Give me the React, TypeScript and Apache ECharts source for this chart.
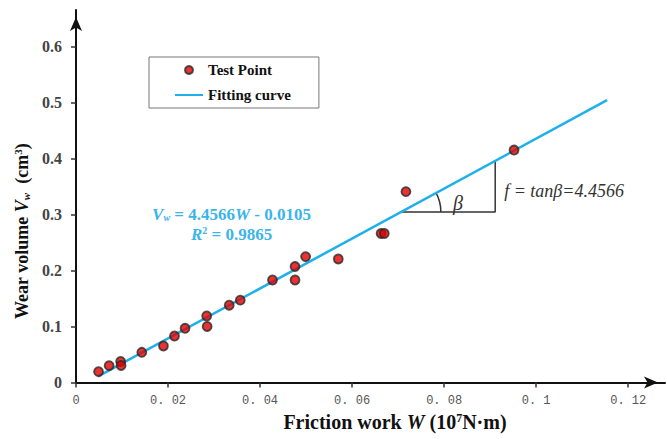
import React, { useEffect, useRef } from 'react';
import * as echarts from 'echarts';

// Test points: friction work W (10^7 N·m) and wear volume Vw (cm^3)
const testPointW = [0.0049, 0.0072, 0.0097, 0.0098, 0.0143, 0.019, 0.0214, 0.0237, 0.0284, 0.0285, 0.0333, 0.0357, 0.0427, 0.0476, 0.0476, 0.0499, 0.057, 0.0663, 0.067, 0.0717, 0.0952];
const testPointV = [0.0193, 0.03, 0.0375, 0.0304, 0.0539, 0.0652, 0.083, 0.0968, 0.1188, 0.1, 0.138, 0.147, 0.183, 0.207, 0.183, 0.2246, 0.2205, 0.266, 0.266, 0.3407, 0.415];

// Fitting curve endpoints (Vw = 4.4566W - 0.0105)
const fitW = [0.0048, 0.1154];
const fitV = [0.0109, 0.504];

// Slope triangle
const triangleW = [0.0706, 0.0911, 0.0911];
const triangleV = [0.3044, 0.3044, 0.3955];

const xTickValues = [0, 0.02, 0.04, 0.06, 0.08, 0.1, 0.12];
const xTickLabels = ['0', '0. 02', '0. 04', '0. 06', '0. 08', '0. 1', '0. 12'];
const yTickValues = [0, 0.1, 0.2, 0.3, 0.4, 0.5, 0.6];
const yTickLabels = ['0', '0.1', '0.2', '0.3', '0.4', '0.5', '0.6'];

const SERIF = "'Liberation Serif', 'Times New Roman', serif";
const FIT_COLOR = '#1DB0EA';
const EQ_COLOR = '#3AB4EB';

function lookup(values: number[], labels: string[], v: number) {
  for (let i = 0; i < values.length; i++) {
    if (Math.abs(values[i] - v) < 1e-6) return labels[i];
  }
  return '';
}

function nameRich(size: number) {
  const small = Math.round(size * 0.6);
  const shift = Math.round(size * 0.45);
  return {
    b: { fontFamily: SERIF, fontWeight: 'bold', fontSize: size, color: '#111' },
    i: { fontFamily: SERIF, fontWeight: 'bold', fontStyle: 'italic', fontSize: size, color: '#111' },
    sub: { fontFamily: SERIF, fontWeight: 'bold', fontStyle: 'italic', fontSize: small, color: '#111', padding: [shift, 0, 0, 0] },
    sup: { fontFamily: SERIF, fontWeight: 'bold', fontSize: small, color: '#111', padding: [0, 0, shift, 0] },
  };
}

export default function App() {
  const ref = useRef<HTMLDivElement>(null);

  useEffect(() => {
    if (!ref.current) return;
    const chart = echarts.init(ref.current, undefined, { renderer: 'svg' });

    chart.setOption({
      animation: false,
      backgroundColor: '#ffffff',
      grid: { left: 76, right: 2, top: 10, bottom: 56.5 },
      legend: {
        data: [
          { name: 'Test Point', icon: 'circle' },
          { name: 'Fitting curve', itemStyle: { opacity: 0, color: 'transparent', borderWidth: 0 } },
        ],
        orient: 'vertical',
        left: 149,
        top: 57,
        padding: [5.5, 28, 5.5, 25],
        itemGap: 10,
        itemWidth: 28,
        itemHeight: 8,
        borderColor: '#777',
        borderWidth: 1,
        selectedMode: false,
        textStyle: { fontFamily: SERIF, fontWeight: 'bold', fontSize: 15, color: '#111' },
      },
      xAxis: {
        type: 'value',
        min: 0,
        max: 0.128,
        interval: 0.02,
        name: '{b|Friction work }{i|W}{b| (10}{sup|7}{b|N·m)}',
        nameLocation: 'middle',
        nameGap: 29,
        nameTextStyle: { rich: nameRich(20), padding: [0, 0, 0, 49] },
        axisLine: {
          show: true,
          onZero: false,
          symbol: ['none', 'arrow'],
          symbolSize: [9, 14],
          symbolOffset: [0, -7],
          lineStyle: { color: '#111', width: 2 },
        },
        axisTick: { show: true, length: 5, lineStyle: { color: '#333', width: 1.5 } },
        axisLabel: {
          margin: 12,
          fontFamily: "'Liberation Mono', monospace",
          fontSize: 12,
          color: '#555',
          showMaxLabel: false,
          formatter: (v: number) => lookup(xTickValues, xTickLabels, v),
        },
        splitLine: { show: false },
      },
      yAxis: {
        type: 'value',
        min: 0,
        max: 0.665,
        interval: 0.1,
        name: '{b|Wear volume }{i|V}{sub|w}{b|  (cm}{sup|3}{b|)}',
        nameLocation: 'middle',
        nameGap: 44,
        nameTextStyle: { rich: nameRich(18), padding: [0, 70, 0, 0] },
        axisLine: {
          show: true,
          onZero: false,
          symbol: ['none', 'arrow'],
          symbolSize: [9, 14],
          symbolOffset: [0, -7],
          lineStyle: { color: '#111', width: 2 },
        },
        axisTick: { show: true, length: 5, lineStyle: { color: '#333', width: 1.5 } },
        axisLabel: {
          margin: 14,
          fontFamily: SERIF,
          fontWeight: 'bold',
          fontSize: 16,
          color: '#444',
          showMaxLabel: false,
          formatter: (v: number) => lookup(yTickValues, yTickLabels, v),
        },
        splitLine: { show: false },
      },
      series: [
        {
          name: 'Fitting curve',
          type: 'line',
          data: fitW.map((w, i) => [w, fitV[i]]),
          symbol: 'none',
          lineStyle: { color: FIT_COLOR, width: 2.5 },
          itemStyle: { color: FIT_COLOR },
          z: 3,
          silent: true,
        },
        {
          name: 'triangle',
          type: 'line',
          data: triangleW.map((w, i) => [w, triangleV[i]]),
          symbol: 'none',
          lineStyle: { color: '#333', width: 1.5 },
          z: 2,
          silent: true,
        },
        {
          name: 'Test Point',
          type: 'scatter',
          data: testPointW.map((w, i) => [w, testPointV[i]]),
          symbolSize: 9,
          itemStyle: { color: '#E40000', borderColor: '#2a2a2a', borderWidth: 1.8 },
          z: 4,
        },
      ],
    });

    const p0 = chart.convertToPixel({ gridIndex: 0 }, [triangleW[0], triangleV[0]]) as number[];
    const p1 = chart.convertToPixel({ gridIndex: 0 }, [triangleW[1], triangleV[1]]) as number[];
    const p2 = chart.convertToPixel({ gridIndex: 0 }, [triangleW[2], triangleV[2]]) as number[];
    const angle = Math.atan2(p2[1] - p0[1], p2[0] - p0[0]);
    const eq = chart.convertToPixel({ gridIndex: 0 }, [0.0338, 0.3]) as number[];

    const eqRich = {
      b: { fontFamily: SERIF, fontWeight: 'bold', fontSize: 17, fill: EQ_COLOR, color: EQ_COLOR },
      i: { fontFamily: SERIF, fontWeight: 'bold', fontStyle: 'italic', fontSize: 17, fill: EQ_COLOR, color: EQ_COLOR },
      sub: { fontFamily: SERIF, fontWeight: 'bold', fontStyle: 'italic', fontSize: 10, fill: EQ_COLOR, color: EQ_COLOR, padding: [7, 0, 0, 0] },
      sup: { fontFamily: SERIF, fontWeight: 'bold', fontSize: 10, fill: EQ_COLOR, color: EQ_COLOR, padding: [0, 0, 7, 0] },
    };

    chart.setOption({
      graphic: [
        {
          type: 'arc',
          shape: { cx: p0[0], cy: p0[1], r: 40, startAngle: angle, endAngle: 0, clockwise: true },
          style: { stroke: '#333', lineWidth: 1.5, fill: 'none' },
          silent: true,
        },
        {
          type: 'text',
          x: p0[0] + 57,
          y: p0[1] - 9,
          style: {
            text: 'β',
            font: `italic 20px ${SERIF}`,
            fill: '#333',
            textAlign: 'center',
            textVerticalAlign: 'middle',
          },
          silent: true,
        },
        {
          type: 'text',
          x: p1[0] + 9,
          y: p1[1] - 21,
          style: {
            text: 'f = tanβ=4.4566',
            font: `italic 18px ${SERIF}`,
            fill: '#333',
            textAlign: 'left',
            textVerticalAlign: 'middle',
          },
          silent: true,
        },
        {
          type: 'text',
          x: eq[0],
          y: eq[1],
          style: {
            text: '{i|V}{sub|w}{b| = 4.4566}{i|W}{b| - 0.0105}',
            rich: eqRich,
            textAlign: 'center',
            textVerticalAlign: 'middle',
          },
          silent: true,
        },
        {
          type: 'text',
          x: eq[0],
          y: eq[1] + 20,
          style: {
            text: '{i|R}{sup|2}{b| = 0.9865}',
            rich: eqRich,
            textAlign: 'center',
            textVerticalAlign: 'middle',
          },
          silent: true,
        },
      ],
    });

    return () => {
      chart.dispose();
    };
  }, []);

  return (
    <div
      ref={ref}
      style={{ position: 'fixed', left: 0, top: 0, width: 667, height: 439, background: '#fff' }}
    />
  );
}
